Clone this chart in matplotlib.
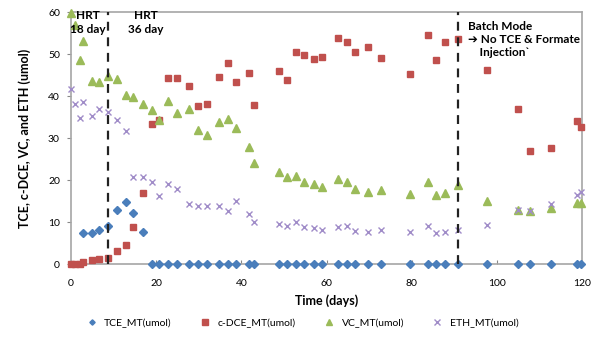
#!/usr/bin/env python3
"""TCE / c-DCE / VC / ETH mass over time in the reactor."""

import matplotlib
matplotlib.use("Agg")
import matplotlib.pyplot as plt
import numpy as np

# sampling days
days = [0, 1, 2, 2.9, 4.9, 6.6, 8.6, 10.8, 12.9, 14.6, 16.8,
        19.0, 20.7, 22.8, 24.8, 27.8, 29.8, 31.9, 34.8, 36.8, 38.8,
        41.9, 42.9, 48.8, 50.8, 52.8, 54.7, 57.0, 58.9, 62.8, 64.7,
        66.7, 69.8, 72.7, 79.7, 83.9, 85.8, 87.9, 90.8, 97.8, 104.9,
        107.8, 112.8, 118.9, 119.8]

nan = np.nan
tce = [nan, nan, nan, 7.5, 7.3, 8.1, 9.0, 12.9, 14.8, 12.1, 7.7] + [0.0] * 34
cdce = [0.0, 0.0, 0.1, 0.5, 0.9, 1.1, 1.5, 3.1, 4.6, 8.7, 17.0,
        33.4, 34.2, 44.2, 44.2, 42.4, 37.6, 38.1, 44.6, 47.9, 43.4,
        45.4, 37.9, 46.0, 43.7, 50.4, 49.7, 48.8, 49.4, 53.8, 52.8,
        50.5, 51.6, 49.0, 45.2, 54.5, 48.6, 52.9, 53.5, 46.3, 36.8,
        26.8, 27.6, 34.0, 32.7]
vc = [59.7, 56.9, 48.6, 53.2, 43.6, 43.3, 44.8, 44.0, 40.2, 39.8, 38.0,
      36.7, 34.3, 38.8, 35.9, 36.8, 31.9, 30.6, 33.9, 34.5, 32.5,
      27.9, 24.1, 21.8, 20.6, 21.0, 19.6, 19.0, 18.4, 20.2, 19.5,
      17.8, 17.2, 17.6, 16.6, 19.5, 16.4, 17.0, 18.7, 14.9, 12.9,
      12.6, 13.4, 14.6, 14.5]
eth = [41.7, 38.1, 34.8, 38.6, 35.3, 36.8, 36.3, 34.3, 31.7, 20.6, 20.8,
       19.6, 16.3, 19.0, 17.9, 14.3, 13.9, 13.7, 13.9, 12.7, 15.1,
       11.8, 10.0, 9.5, 9.1, 9.9, 8.7, 8.6, 8.0, 8.7, 9.0,
       7.9, 7.7, 8.1, 7.6, 9.1, 7.5, 7.7, 8.1, 9.3, 12.9,
       12.7, 14.4, 16.4, 17.1]

phase_days = [8.6, 90.8]

FONT = ["Lato", "DejaVu Sans"]
plt.rcParams["font.family"] = FONT

fig = plt.figure(figsize=(5.91, 3.40), dpi=100)
ax = fig.add_axes([71 / 591, 1 - 264 / 340, 511 / 591, 252 / 340])

kw = dict(ls="none", clip_on=False, zorder=3)
ax.plot(days, tce, "D", color="#4A7EBB", ms=3.6, label="TCE_MT(umol)", **kw)
ax.plot(days, cdce, "s", color="#C0504D", ms=5.0, label="c-DCE_MT(umol)", **kw)
ax.plot(days, vc, "^", color="#9BBB59", ms=5.2, label="VC_MT(umol)", **kw)
ax.plot(days, eth, "x", color="#A08CC8", ms=5.0, mew=1.0, label="ETH_MT(umol)", **kw)

for d in phase_days:
    ax.axvline(d, color="#222222", ls=(0, (4, 3)), lw=1.6, zorder=4)

ax.set_xlim(0, 120)
ax.set_ylim(0, 60)
ax.set_xticks(range(0, 121, 20))
ax.set_yticks(range(0, 61, 10))
ax.tick_params(axis="x", direction="in", length=3, pad=10.5, color="#888888",
               labelsize=7.5)
ax.tick_params(axis="y", direction="out", length=3, pad=5, color="#888888",
               labelsize=7.5)
for s in ax.spines.values():
    s.set_color("#A6A6A6")
    s.set_linewidth(1.2)

ax.set_xlabel("Time (days)", fontsize=9, fontweight="bold", labelpad=5)
ax.set_ylabel("TCE, c-DCE, VC, and ETH (umol)", fontsize=9, fontweight="bold",
              labelpad=12)

# phase annotations
ax.text(4.0, 57.5, "HRT\n18 day", ha="center", va="center", fontsize=8.5,
        fontweight="bold", linespacing=1.25, zorder=5)
ax.text(17.5, 57.5, "HRT\n36 day", ha="center", va="center", fontsize=8.5,
        fontweight="bold", linespacing=1.25, zorder=5)
ax.text(93.2, 57.9, "Batch Mode\n\u2794 No TCE & Formate\n    Injection`",
        ha="left", va="top", fontsize=8.5, fontweight="bold",
        linespacing=1.25, zorder=5)

fig.legend(loc="center", bbox_to_anchor=(300 / 591, 1 - 323 / 340), ncol=4,
           frameon=False, fontsize=7.5, handletextpad=0.2, columnspacing=2.2,
           markerscale=0.75)

fig.savefig("out.png", dpi=100)
